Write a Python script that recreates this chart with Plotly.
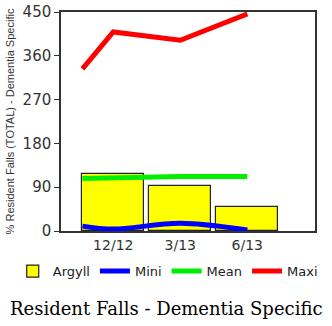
import plotly.graph_objects as go

categories = ["12/12", "3/13", "6/13"]
cat_pos = [0, 1, 2]
argyll = [117, 92, 50]

line_x = [-0.46, 0, 1, 2]
mini = [10, 4, 16, 2]
mean = [108, 110, 112, 112]
maxi = [333, 409, 392, 446]

fig = go.Figure()
fig.add_trace(go.Bar(x=cat_pos, y=argyll, name="Argyll", width=0.92,
                     marker=dict(color="#ffff00", line=dict(color="#222222", width=1.2))))
fig.add_trace(go.Scatter(x=line_x, y=mini, name="Mini", mode="lines",
                         line=dict(color="#0000ff", width=5, shape="spline")))
fig.add_trace(go.Scatter(x=line_x, y=mean, name="Mean", mode="lines",
                         line=dict(color="#00ee00", width=5)))
fig.add_trace(go.Scatter(x=line_x, y=maxi, name="Maxi", mode="lines",
                         line=dict(color="#ff0000", width=5)))

fig.update_layout(
    width=332, height=326,
    margin=dict(l=61, r=17, t=12, b=95, autoexpand=False),
    paper_bgcolor="white", plot_bgcolor="white",
    font=dict(family="DejaVu Sans, Verdana, sans-serif", size=14, color="#222222"),
    showlegend=True,
    legend=dict(orientation="h", x=-0.19, xanchor="left", y=-0.183, yanchor="middle",
                font=dict(size=13, color="#222222"),
                traceorder="normal", itemwidth=30),
    bargap=0,
    xaxis=dict(range=[-0.78, 3.01], tickmode="array", tickvals=cat_pos, ticktext=categories,
               showline=True, linecolor="#333333", linewidth=1.5, mirror=True,
               showgrid=False, zeroline=False, ticks="", tickfont=dict(size=14, color="#333333")),
    yaxis=dict(range=[0, 450], tickmode="array", tickvals=[0, 90, 180, 270, 360, 450],
               showline=True, linecolor="#333333", linewidth=1.5, mirror=True,
               showgrid=False, zeroline=False, ticks="outside", ticklen=5,
               tickcolor="#333333", tickfont=dict(size=15, color="#333333"),
               title=dict(text="% Resident Falls (TOTAL) - Dementia Specific",
                          font=dict(family="Liberation Sans, Arial, sans-serif", size=11,
                                    color="#333333"), standoff=6)),
    annotations=[dict(text="Resident Falls - Dementia Specific", xref="paper", yref="paper",
                      x=0.413, y=-0.356, xanchor="center", yanchor="middle", showarrow=False,
                      font=dict(family="DejaVu Serif, serif", size=18, color="black"))],
)

fig.write_html("out.html")
